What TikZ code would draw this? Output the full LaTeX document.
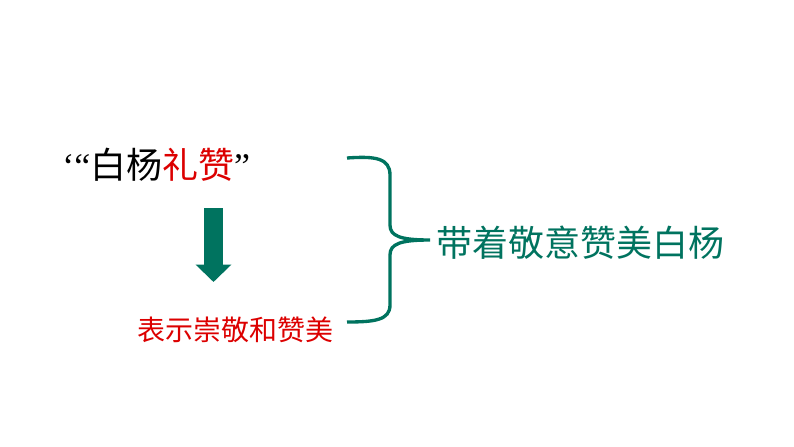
\documentclass[tikz,border=0pt]{standalone}
\usepackage{fontspec}
\usetikzlibrary{arrows.meta}
\setmainfont{Liberation Serif}
\newfontfamily\cjk{Noto Sans CJK SC}
\definecolor{teal1}{RGB}{0,115,95}
\definecolor{red1}{RGB}{220,0,0}
\begin{document}
\begin{tikzpicture}[x=0.75pt,y=-0.75pt]
\useasboundingbox (0,0) rectangle (794,447);
\tikzset{txt/.style={inner sep=0pt,anchor=west,font=\cjk}}
\node[txt,font=\cjk\fontsize{27}{30}\selectfont] (t) at (62,165) {{\rmfamily ‘“}白杨\textcolor{red1}{礼赞}{\rmfamily ”}};
\node[txt,font=\cjk\fontsize{21}{24}\selectfont,text=red1] (r) at (137,330) {表示崇敬和赞美};
\node[txt,font=\cjk\fontsize{27}{32}\selectfont,text=teal1] (g) at (436,243) {带着敬意赞美白杨};
\coordinate (a1) at (213.5,208);
\coordinate (a2) at (213.5,282);
\draw[teal1,line width=14pt,-{Triangle[width=26pt,length=13pt]}] (a1) -- (a2);
\draw[teal1,line width=2.5pt] (347,158) .. controls (375,156) and (390,158) .. (390,175)
 -- (390,225) .. controls (390,236) and (400,240) .. (430,240)
 .. controls (400,240) and (390,244) .. (390,255) -- (390,305)
 .. controls (390,320) and (375,322) .. (347,322);
\end{tikzpicture}
\end{document}
